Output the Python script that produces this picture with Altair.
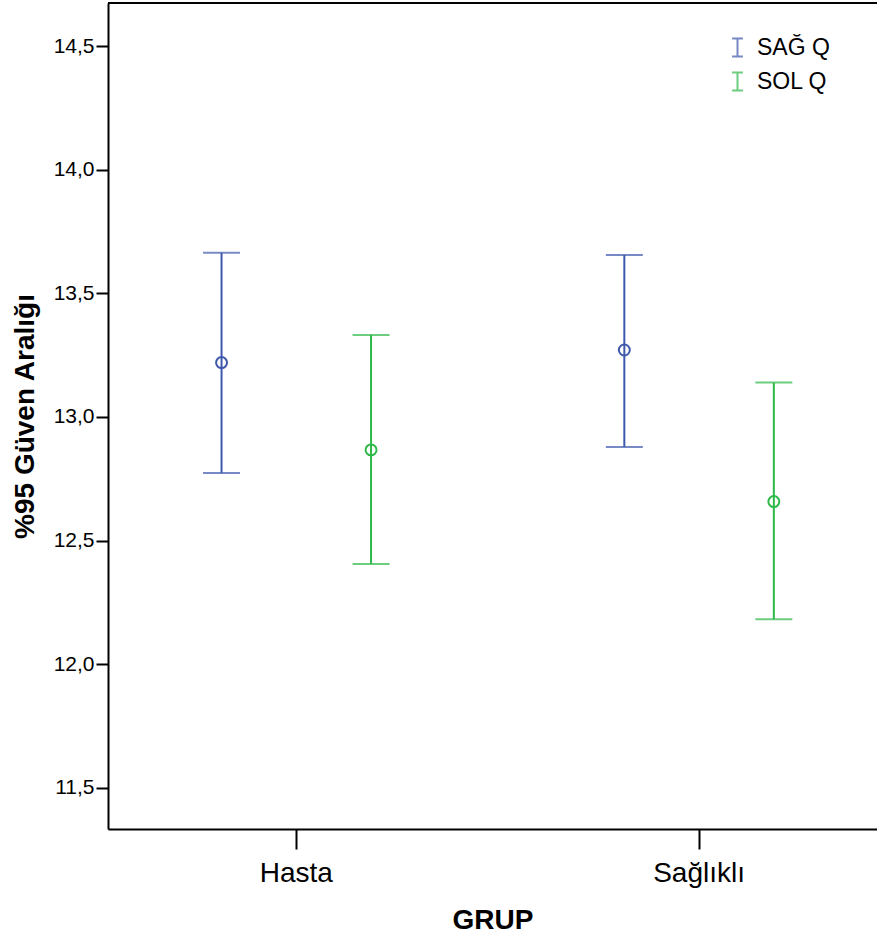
import altair as alt
import pandas as pd

# ---- data ----
groups = ["Hasta", "Hasta", "Sağlıklı", "Sağlıklı"]
series = ["SAĞ Q", "SOL Q", "SAĞ Q", "SOL Q"]
means = [13.220, 12.867, 13.271, 12.658]
lowers = [12.774, 12.406, 12.879, 12.182]
uppers = [13.664, 13.332, 13.655, 13.139]

group_order = ["Hasta", "Sağlıklı"]
series_order = ["SAĞ Q", "SOL Q"]
series_colors = ["#3E58AC", "#2EB848"]
y_ticks = [11.5, 12.0, 12.5, 13.0, 13.5, 14.0, 14.5]

df = pd.DataFrame({"grp": groups, "series": series, "mean": means,
                   "lower": lowers, "upper": uppers})

W, H = 769, 826
FONT = "Liberation Sans"

yscale = alt.Scale(domain=[11.334, 14.674], nice=False, zero=False)

base = alt.Chart(df).encode(
    x=alt.X("grp:N", sort=group_order,
            scale=alt.Scale(type="band", paddingInner=0.2, paddingOuter=0.0546,
                            align=0.618),
            axis=alt.Axis(title="GRUP", labelAngle=0, labelFontSize=28,
                          labelFont=FONT, labelColor="black", labelPadding=10,
                          tickSize=20, tickWidth=2, tickColor="black",
                          domainColor="black", domainWidth=2,
                          titleFont=FONT, titleFontSize=28, titleFontWeight="bold",
                          titleColor="black", titleY=99, titleBaseline="alphabetic")),
    xOffset=alt.XOffset("series:N", sort=series_order,
                        scale=alt.Scale(paddingInner=0, paddingOuter=0.0777)),
    color=alt.Color("series:N", sort=series_order,
                    scale=alt.Scale(domain=series_order, range=series_colors),
                    legend=alt.Legend(title=None, orient="none", legendX=618, legendY=33,
                                      labelFont=FONT, labelFontSize=23, labelColor="black",
                                      symbolType="M-0.6,-1H0.6M0,-1V1M-0.6,1H0.6",
                                      symbolSize=324, symbolStrokeWidth=2,
                                      symbolFillColor="transparent",
                                      labelOffset=8, rowPadding=7, padding=0)),
)

yaxis = alt.Axis(title="%95 Güven Aralığı", values=y_ticks,
                 labelExpr="replace(format(datum.value, '.1f'), '.', ',')",
                 labelFont=FONT, labelFontSize=21, labelColor="black", labelPadding=2,
                 tickSize=12, tickWidth=2, tickColor="black",
                 domainColor="black", domainWidth=2, grid=False,
                 titleFont=FONT, titleFontSize=28, titleFontWeight="bold",
                 titleColor="black", titleX=-75, titleBaseline="alphabetic")

rules = base.mark_rule(strokeWidth=2).encode(
    y=alt.Y("lower:Q", scale=yscale, axis=yaxis), y2="upper:Q")
cap_hi = base.mark_tick(orient="horizontal", size=37, thickness=2).encode(
    y=alt.Y("upper:Q", scale=yscale))
cap_lo = base.mark_tick(orient="horizontal", size=37, thickness=2).encode(
    y=alt.Y("lower:Q", scale=yscale))
points = base.mark_point(filled=False, size=120, strokeWidth=2, opacity=1).encode(
    y=alt.Y("mean:Q", scale=yscale))

frame_top = alt.Chart(pd.DataFrame({"a": [0]})).mark_rule(
    color="black", strokeWidth=2).encode(
    y=alt.value(0), x=alt.value(0), x2=alt.value(W))

chart = alt.layer(rules, cap_hi, cap_lo, points, frame_top).properties(
    width=W, height=H,
    autosize=alt.AutoSizeParams(type="none"),
    padding={"left": 108, "top": 3, "right": 0, "bottom": 111},
).configure_view(stroke=None).configure(background="white")

chart.save("out.html", embed_options={"renderer": "svg", "actions": False})
